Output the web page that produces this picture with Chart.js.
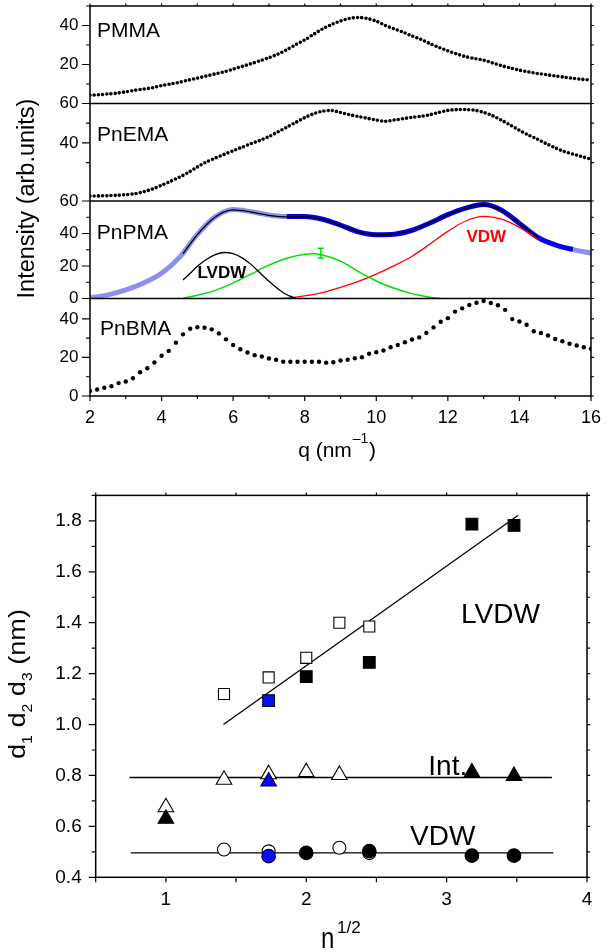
<!DOCTYPE html>
<html>
<head>
<meta charset="utf-8">
<script src="https://cdn.jsdelivr.net/npm/chart.js@4.4.1/dist/chart.umd.min.js"></script>
<style>
  body { margin: 0; background: #fff; }
  canvas { position: absolute; left: 0; }
</style>
</head>
<body>
<canvas id="spectra" width="614" height="470" style="top:0"></canvas>
<canvas id="spacing" width="614" height="482" style="top:470px"></canvas>
<script>
// ------------------------------
// DATA - top panels (q in nm^-1, intensity in arb. units)
// ------------------------------

const qGrid = [2, 2.25, 2.5, 2.75, 3, 3.25, 3.5, 3.75, 4, 4.25, 4.5, 4.75, 5, 5.25, 5.5, 5.75,
    6, 6.25, 6.5, 6.75, 7, 7.25, 7.5, 7.75, 8, 8.25, 8.5, 8.75, 9, 9.25, 9.5, 9.75,
    10, 10.25, 10.5, 10.75, 11, 11.25, 11.5, 11.75, 12, 12.25, 12.5, 12.75, 13, 13.25, 13.5, 13.75,
    14, 14.25, 14.5, 14.75, 15, 15.25, 15.5, 15.75, 16];

const pmma = [4.2, 4.5, 4.9, 5.3, 6.0, 6.8, 7.4, 8.1, 9.2, 10.0,
    10.9, 12.0, 13.0, 14.1, 15.2, 16.3, 17.6, 19.0, 20.4, 21.9,
    23.5, 25.3, 27.6, 30.2, 32.6, 35.5, 38.3, 40.5, 42.3, 43.6,
    44.1, 43.6, 42.2, 40.0, 38.3, 36.6, 34.6, 32.9, 30.7, 28.8,
    27.0, 25.4, 24.0, 23.1, 22.2, 20.8, 19.4, 18.2, 17.1, 16.2,
    15.4, 14.8, 14.1, 13.5, 12.9, 12.4, 12.0];

const pnema = [13.0, 13.1, 13.2, 13.4, 13.7, 14.2, 15.2, 16.6, 18.5, 20.5,
    22.6, 25.0, 27.8, 30.3, 32.3, 34.2, 36.0, 37.8, 39.6, 41.3,
    43.2, 45.6, 48.0, 50.4, 52.8, 54.8, 56.1, 56.5, 55.4, 54.3,
    53.4, 52.5, 51.6, 51.0, 51.6, 52.3, 53.0, 53.5, 54.3, 55.5,
    56.5, 56.9, 56.9, 56.6, 55.5, 53.8, 51.5, 49.0, 46.4, 44.0,
    41.9, 39.6, 37.5, 35.6, 34.3, 33.0, 31.8];

const qBlue = [2, 2.5, 3, 3.5, 4, 4.5, 5, 5.5, 6, 6.5, 7, 7.5, 8, 8.5, 9, 9.5,
    10, 10.5, 11, 11.5, 12, 12.5, 13, 13.5, 14, 14.5, 15, 15.5, 16];
const pnpmaData = [0.4, 2.2, 5.3, 9.6, 15.5, 25.3, 39.5, 50.2, 54.7, 53.4,
    51.4, 50.4, 50.5, 48.8, 45.2, 41.0, 39.3, 39.6, 42.0, 46.5,
    51.6, 55.6, 57.8, 54.3, 46.2, 37.8, 33.0, 30.1, 27.9];

const qFit = [4.6, 5, 5.5, 6, 6.5, 7, 7.5, 8, 8.5, 9, 9.5, 10, 10.5, 11, 11.5, 12, 12.5, 13, 13.5, 14, 14.5];
const pnpmaFit = [27.5, 39.3, 50.2, 54.5, 53.2, 51.2, 50.2, 50.3, 48.7, 45.1, 41.0,
    39.2, 39.6, 42.0, 46.5, 51.5, 55.5, 57.7, 54.2, 46.2, 37.8];

const qLvdw = [4.6, 4.8, 5.0, 5.25, 5.5, 5.75, 6.0, 6.25, 6.5, 6.75, 7.0, 7.25, 7.5, 7.75];
const lvdwBand = [11.4, 15.5, 19.8, 24.0, 27.0, 28.3, 27.6, 25.0, 21.0, 15.8, 10.6, 6.0, 2.3, 0.2];

const qInt = [4.6, 5.0, 5.5, 6.0, 6.5, 7.0, 7.5, 8.0, 8.25, 8.5, 9.0, 9.5, 10.0, 10.5, 11.0, 11.5, 11.8];
const intBand = [0.2, 2.0, 5.0, 9.6, 15.0, 20.5, 24.8, 27.3, 27.6, 26.8, 23.0, 16.5, 10.8, 6.3, 3.0, 0.8, 0];

const qVdw = [7.3, 7.75, 8.0, 8.5, 9.0, 9.5, 10.0, 10.5, 11.0, 11.5, 12.0, 12.5, 13.0, 13.5, 14.0, 14.5];
const vdwBand = [0, 0.8, 1.6, 3.6, 6.8, 10.5, 15.0, 20.2, 26.0, 33.5, 41.3, 47.7, 50.5, 48.8, 43.8, 36.8];

const errQ = [8.45];
const errVal = [28];
const errHalf = [3];

const qBma = [2, 2.2, 2.4, 2.6, 2.8, 3, 3.2, 3.4, 3.6, 3.8, 4, 4.2, 4.4, 4.6, 4.8, 5, 5.2, 5.4, 5.6, 5.8,
    6, 6.2, 6.4, 6.6, 6.8, 7, 7.2, 7.4, 7.6, 7.8, 8, 8.2, 8.4, 8.6, 8.8, 9, 9.2, 9.4, 9.6, 9.8,
    10, 10.2, 10.4, 10.6, 10.8, 11, 11.2, 11.4, 11.6, 11.8, 12, 12.2, 12.4, 12.6, 12.8, 13, 13.2, 13.4, 13.6, 13.8,
    14, 14.2, 14.4, 14.6, 14.8, 15, 15.2, 15.4, 15.6, 15.8, 16];
const pnbma = [2.6, 3.4, 4.3, 5.1, 6.7, 7.5, 9.2, 12.3, 14.4, 17.4,
    20.9, 23.4, 27.7, 32.0, 34.9, 35.7, 35.4, 34.6, 32.5, 29.4,
    26.5, 24.3, 22.6, 21.2, 20.5, 19.5, 18.8, 17.8, 17.8, 17.8,
    17.8, 17.8, 17.8, 17.3, 17.5, 18.4, 18.8, 19.6, 20.1, 21.9,
    22.7, 23.6, 25.3, 26.5, 27.9, 29.3, 30.4, 32.7, 35.6, 38.5,
    40.4, 43.8, 45.5, 47.2, 48.4, 49.3, 48.3, 47.1, 44.7, 39.9,
    38.7, 37.0, 33.6, 32.7, 31.4, 29.6, 28.4, 27.1, 26.2, 25.3, 24.5];

// ------------------------------
// DATA - bottom panel (d vs n^1/2)
// ------------------------------

const sqOpenX = [1.414, 1.732, 2.0, 2.236, 2.449];
const sqOpenY = [1.12, 1.185, 1.262, 1.40, 1.385];
const sqFillX = [2.0, 2.449, 3.18, 3.48];
const sqFillY = [1.188, 1.244, 1.787, 1.782];
const sqBlueX = [1.732];
const sqBlueY = [1.094];

const triOpenX = [1.0, 1.414, 1.732, 2.0, 2.236];
const triOpenY = [0.675, 0.783, 0.805, 0.813, 0.802];
const triFillX = [1.0, 3.18, 3.48];
const triFillY = [0.63, 0.812, 0.798];
const triBlueX = [1.732];
const triBlueY = [0.776];

const cirOpenX = [1.414, 1.732, 2.236, 2.449];
const cirOpenY = [0.509, 0.502, 0.516, 0.495];
const cirFillX = [2.0, 2.449, 3.18, 3.48];
const cirFillY = [0.496, 0.503, 0.485, 0.485];
const cirBlueX = [1.732];
const cirBlueY = [0.483];

const lvdwLineX = [1.41, 3.51];
const lvdwLineY = [1.0, 1.822];
const intLineX = [0.74, 3.75];
const intLineY = [0.792, 0.792];
const vdwLineX = [0.75, 3.76];
const vdwLineY = [0.496, 0.496];

// ------------------------------
// HELPERS
// ------------------------------

const FONT = 'Liberation Sans, Arial, sans-serif';
Chart.defaults.font.family = FONT;
Chart.defaults.color = '#000';

const xy = (xs, ys) => xs.map((x, i) => ({ x: x, y: ys[i] }));

const LIGHT_BLUE = '#8d8ff0';
const DARK_BLUE = '#0000e8';
const MARK_BLUE = '#0a0aff';

function panelAxis(min, max, labels, weight) {
    return {
        type: 'linear',
        position: 'left',
        stack: 'panels',
        stackWeight: 1,
        weight: weight,
        min: min,
        max: max,
        grid: { display: false, drawTicks: false },
        border: { display: false },
        ticks: {
            stepSize: 10,
            autoSkip: false,
            padding: 11.5,
            font: { size: 17 },
            callback: v => labels.includes(v) ? String(v) : ''
        },
        afterFit: s => {
            s.width = 90;
            s.paddingTop = 0;
            s.paddingBottom = 0;
        }
    };
}

// ------------------------------
// TOP CHART - stacked intensity panels
// ------------------------------

const spectraDecor = {
    id: 'spectraDecor',
    afterDraw(chart) {
        const { ctx, chartArea: a, scales } = chart;
        const ids = ['yA', 'yB', 'yC', 'yD'];
        ctx.save();

        // frame and panel separators
        ctx.strokeStyle = '#000';
        ctx.lineWidth = 1.5;
        ctx.strokeRect(a.left, a.top, a.right - a.left, a.bottom - a.top);
        ctx.beginPath();
        ids.slice(1).forEach(id => {
            const y = scales[id].top;
            ctx.moveTo(a.left, y);
            ctx.lineTo(a.right, y);
        });
        ctx.stroke();

        // tick marks
        ctx.lineWidth = 1.2;
        ctx.beginPath();
        scales.x.ticks.forEach(t => {
            const px = scales.x.getPixelForValue(t.value);
            const len = t.value % 2 === 0 ? 5 : 3;
            ctx.moveTo(px, a.bottom);
            ctx.lineTo(px, a.bottom + len);
            ctx.moveTo(px, a.top);
            ctx.lineTo(px, a.top - 2.5);
        });
        ids.forEach(id => {
            const s = scales[id];
            s.ticks.forEach(t => {
                if (t.value % 10 !== 0) return;
                const py = s.getPixelForValue(t.value);
                const len = t.value % 20 === 0 ? 8 : 4;
                ctx.moveTo(a.left - len, py);
                ctx.lineTo(a.left, py);
                ctx.moveTo(a.right, py);
                ctx.lineTo(a.right + 3, py);
            });
        });
        ctx.stroke();

        // error bar on the green component
        const yC = scales.yC;
        ctx.strokeStyle = '#00e000';
        ctx.lineWidth = 1.5;
        ctx.beginPath();
        errQ.forEach((q, i) => {
            const px = scales.x.getPixelForValue(q);
            const lo = yC.getPixelForValue(errVal[i] - errHalf[i]);
            const hi = yC.getPixelForValue(errVal[i] + errHalf[i]);
            ctx.moveTo(px, lo); ctx.lineTo(px, hi);
            ctx.moveTo(px - 3, lo); ctx.lineTo(px + 3, lo);
            ctx.moveTo(px - 3, hi); ctx.lineTo(px + 3, hi);
        });
        ctx.stroke();

        // panel names
        ctx.fillStyle = '#000';
        ctx.textAlign = 'left';
        ctx.textBaseline = 'alphabetic';
        ctx.font = '21px ' + FONT;
        ctx.fillText('PMMA', a.left + 7, scales.yA.top + 30.7);
        ctx.fillText('PnEMA', a.left + 7, scales.yB.top + 37);
        ctx.fillText('PnPMA', a.left + 6.7, scales.yC.top + 38.3);
        ctx.fillText('PnBMA', a.left + 10, scales.yD.top + 36);

        ctx.font = 'bold 17px ' + FONT;
        ctx.fillText('LVDW', 197.5, 278.3);
        ctx.fillStyle = '#ff0000';
        ctx.fillText('VDW', 466.5, 242.3);

        // axis titles
        ctx.fillStyle = '#000';
        ctx.save();
        ctx.translate(33.5, 198.5);
        ctx.rotate(-Math.PI / 2);
        ctx.textAlign = 'center';
        ctx.font = '23.5px ' + FONT;
        ctx.fillText('Intensity (arb.units)', 0, 0);
        ctx.restore();

        ctx.font = '21px ' + FONT;
        const main = 'q (nm';
        const wMain = ctx.measureText(main).width;
        ctx.font = '14px ' + FONT;
        const wSup = ctx.measureText('\u20131').width;
        ctx.font = '21px ' + FONT;
        const wClose = ctx.measureText(')').width;
        const x0 = 337 - (wMain + wSup + wClose + 1.5) / 2;
        ctx.fillText(main, x0, 456.5);
        ctx.font = '14px ' + FONT;
        ctx.fillText('\u20131', x0 + wMain + 1, 442.5);
        ctx.font = '21px ' + FONT;
        ctx.fillText(')', x0 + wMain + wSup + 1.5, 456.5);

        ctx.restore();
    }
};

new Chart(document.getElementById('spectra'), {
    type: 'line',
    data: {
        datasets: [
            {
                data: xy(qGrid, pmma), yAxisID: 'yA',
                borderColor: '#000', borderWidth: 3.6, borderDash: [0, 4.2], borderCapStyle: 'round',
                pointRadius: 0, tension: 0.3, order: 3
            },
            {
                data: xy(qGrid, pnema), yAxisID: 'yB',
                borderColor: '#000', borderWidth: 3.6, borderDash: [0, 4.2], borderCapStyle: 'round',
                pointRadius: 0, tension: 0.3, order: 3
            },
            {
                data: xy(qBlue, pnpmaData), yAxisID: 'yC',
                borderColor: LIGHT_BLUE, borderWidth: 5, pointRadius: 0,
                cubicInterpolationMode: 'monotone', order: 6,
                segment: {
                    borderColor: c => (c.p0.parsed.x >= 7.5 && c.p1.parsed.x <= 15.5) ? DARK_BLUE : LIGHT_BLUE
                }
            },
            {
                data: xy(qFit, pnpmaFit), yAxisID: 'yC',
                borderColor: '#000', borderWidth: 1.3, pointRadius: 0,
                cubicInterpolationMode: 'monotone', order: 1
            },
            {
                data: xy(qLvdw, lvdwBand), yAxisID: 'yC',
                borderColor: '#000', borderWidth: 1.3, pointRadius: 0,
                cubicInterpolationMode: 'monotone', order: 2
            },
            {
                data: xy(qInt, intBand), yAxisID: 'yC',
                borderColor: '#00e000', borderWidth: 1.5, pointRadius: 0,
                cubicInterpolationMode: 'monotone', order: 2
            },
            {
                data: xy(qVdw, vdwBand), yAxisID: 'yC',
                borderColor: '#ff0000', borderWidth: 1.3, pointRadius: 0,
                cubicInterpolationMode: 'monotone', order: 2
            },
            {
                data: xy(qBma, pnbma), yAxisID: 'yD', showLine: false,
                pointRadius: 2.2, pointBackgroundColor: '#000', pointBorderWidth: 0, order: 3
            }
        ]
    },
    options: {
        responsive: false,
        devicePixelRatio: 1,
        animation: false,
        layout: { padding: { top: 6, right: 23, left: 0, bottom: 0 } },
        plugins: { legend: { display: false }, tooltip: { enabled: false } },
        scales: {
            x: {
                type: 'linear', position: 'bottom', min: 2, max: 16,
                grid: { display: false, drawTicks: false },
                border: { display: false },
                ticks: {
                    stepSize: 1, autoSkip: false, maxRotation: 0, padding: 11, font: { size: 18 },
                    callback: v => v % 2 === 0 ? String(v) : ''
                },
                afterFit: s => { s.height = 74; }
            },
            yD: panelAxis(0, 50.6, [0, 20, 40], 1),
            yC: panelAxis(0, 60, [0, 20, 40, 60], 2),
            yB: panelAxis(10.5, 60, [20, 40, 60], 3),
            yA: panelAxis(0, 50, [20, 40], 4)
        }
    },
    plugins: [spectraDecor]
});

// ------------------------------
// BOTTOM CHART - d1 d2 d3 vs n^1/2
// ------------------------------

const spacingDecor = {
    id: 'spacingDecor',
    afterDraw(chart) {
        const { ctx, chartArea: a, scales } = chart;
        ctx.save();
        ctx.strokeStyle = '#000';
        ctx.lineWidth = 1.5;
        ctx.strokeRect(a.left, a.top, a.right - a.left, a.bottom - a.top);

        ctx.lineWidth = 1.2;
        ctx.beginPath();
        scales.x.ticks.forEach(t => {
            const px = scales.x.getPixelForValue(t.value);
            ctx.moveTo(px, a.bottom); ctx.lineTo(px, a.bottom + 5);
            ctx.moveTo(px, a.top); ctx.lineTo(px, a.top - 3);
        });
        scales.y.ticks.forEach(t => {
            const py = scales.y.getPixelForValue(t.value);
            const major = Math.round(t.value * 10) % 2 === 0;
            ctx.moveTo(a.left - (major ? 7 : 4), py); ctx.lineTo(a.left, py);
            ctx.moveTo(a.right, py); ctx.lineTo(a.right + 3, py);
        });
        ctx.stroke();

        // group labels
        ctx.fillStyle = '#000';
        ctx.textAlign = 'left';
        ctx.textBaseline = 'alphabetic';
        ctx.font = '28px ' + FONT;
        ctx.fillText('LVDW', 461, 152.7);
        ctx.fillText('Int.', 428.3, 305);
        ctx.fillText('VDW', 410, 375);

        // y title: d1 d2 d3 (nm)
        ctx.save();
        ctx.translate(25, 214);
        ctx.rotate(-Math.PI / 2);
        ctx.scale(1.13, 1);
        const parts = [['d', '1'], ['d', '2'], ['d', '3']];
        ctx.font = '24px ' + FONT;
        const wd = ctx.measureText('d').width;
        const wsp = ctx.measureText(' ').width;
        const wnm = ctx.measureText('(nm)').width;
        ctx.font = '14px ' + FONT;
        const wsub = ctx.measureText('1').width;
        const total = 3 * (wd + wsub + wsp) + wnm;
        let x = -total / 2;
        parts.forEach(p => {
            ctx.font = '24px ' + FONT;
            ctx.fillText(p[0], x, 0);
            x += wd;
            ctx.font = '14px ' + FONT;
            ctx.fillText(p[1], x, 7);
            x += wsub + wsp;
        });
        ctx.font = '24px ' + FONT;
        ctx.fillText('(nm)', x, 0);
        ctx.restore();

        // x title: n^1/2
        ctx.save();
        ctx.translate(321, 478);
        ctx.scale(1, 1.2);
        ctx.font = '24px ' + FONT;
        ctx.fillText('n', 0, 0);
        ctx.restore();
        ctx.font = '17px ' + FONT;
        ctx.fillText('1/2', 337, 463);

        ctx.restore();
    }
};

function markerSet(xs, ys, style, radius, fill, order) {
    return {
        data: xy(xs, ys), showLine: false, pointStyle: style, pointRadius: radius,
        pointBackgroundColor: fill, pointBorderColor: '#000', pointBorderWidth: 1.1, order: order
    };
}

function fitLine(xs, ys) {
    return { data: xy(xs, ys), borderColor: '#000', borderWidth: 1.3, pointRadius: 0, order: 10 };
}

new Chart(document.getElementById('spacing'), {
    type: 'line',
    data: {
        datasets: [
            fitLine(lvdwLineX, lvdwLineY),
            fitLine(intLineX, intLineY),
            fitLine(vdwLineX, vdwLineY),
            markerSet(sqOpenX, sqOpenY, 'rect', 7.8, '#fff', 0),
            markerSet(sqFillX, sqFillY, 'rect', 8.3, '#000', -1),
            markerSet(sqBlueX, sqBlueY, 'rect', 8.3, MARK_BLUE, -2),
            markerSet(triOpenX, triOpenY, 'triangle', 9, '#fff', 0),
            markerSet(triFillX, triFillY, 'triangle', 9, '#000', -1),
            markerSet(triBlueX, triBlueY, 'triangle', 9, MARK_BLUE, -2),
            markerSet(cirOpenX, cirOpenY, 'circle', 6.5, '#fff', 0),
            markerSet(cirFillX, cirFillY, 'circle', 6.8, '#000', -1),
            markerSet(cirBlueX, cirBlueY, 'circle', 6.8, MARK_BLUE, -2)
        ]
    },
    options: {
        responsive: false,
        devicePixelRatio: 1,
        animation: false,
        layout: { padding: { top: 23.3, right: 27, left: 0, bottom: 0 } },
        plugins: { legend: { display: false }, tooltip: { enabled: false } },
        scales: {
            x: {
                type: 'linear', min: 0.5, max: 4,
                grid: { display: false, drawTicks: false },
                border: { display: false },
                ticks: {
                    stepSize: 0.5, autoSkip: false, maxRotation: 0, padding: 11, font: { size: 19 },
                    callback: v => Number.isInteger(v) ? String(v) : ''
                },
                afterFit: s => { s.height = 74.7; }
            },
            y: {
                type: 'linear', min: 0.4, max: 1.9,
                grid: { display: false, drawTicks: false },
                border: { display: false },
                ticks: {
                    stepSize: 0.1, autoSkip: false, padding: 14, font: { size: 19 },
                    callback: v => Math.round(v * 10) % 2 === 0 ? v.toFixed(1) : ''
                },
                afterFit: s => { s.width = 95.7; }
            }
        }
    },
    plugins: [spacingDecor]
});
</script>
</body>
</html>
